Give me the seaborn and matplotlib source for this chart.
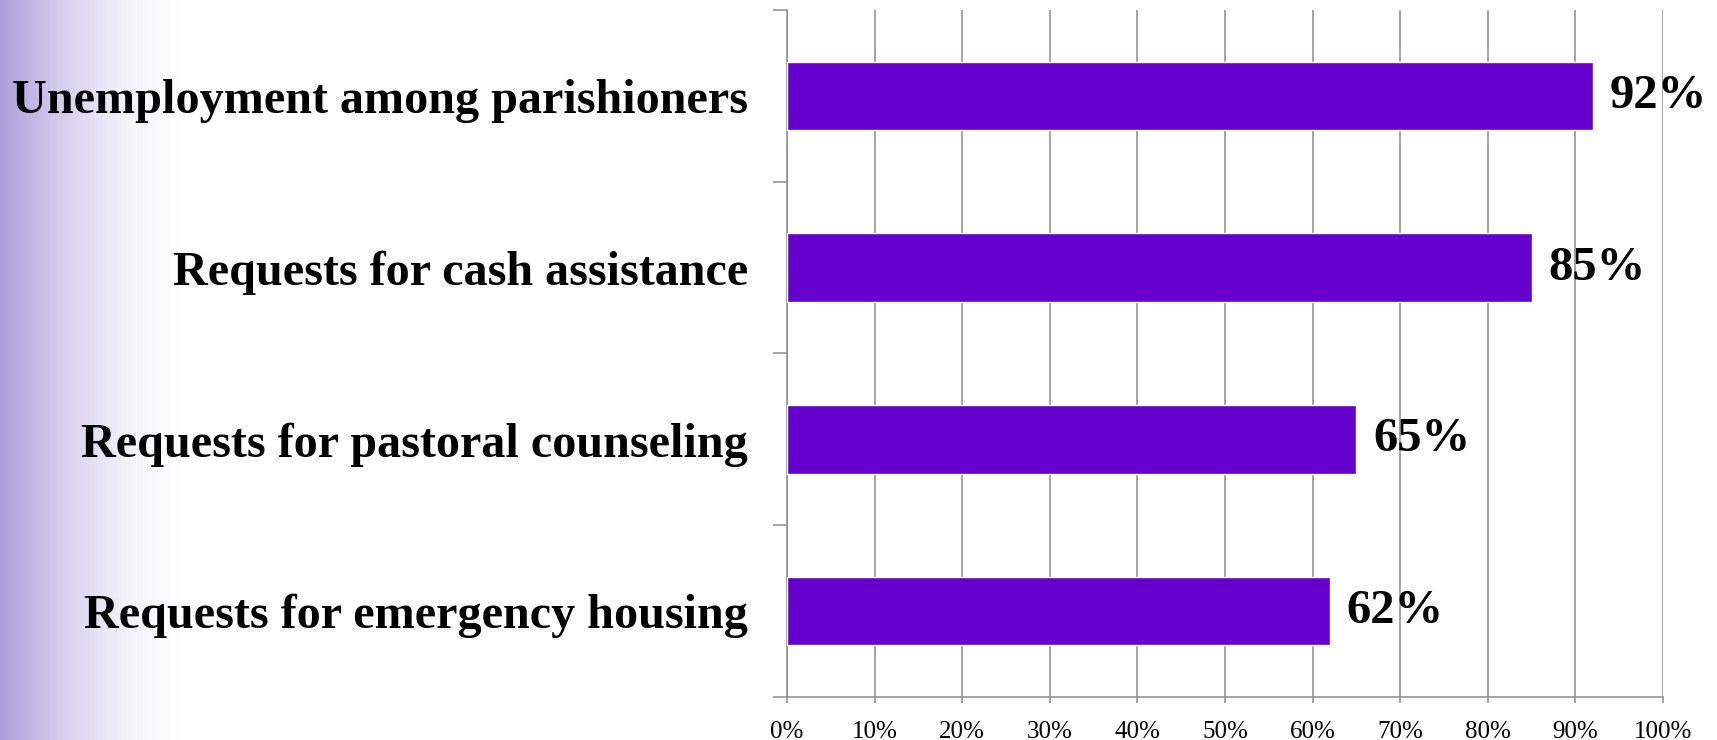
import numpy as np
import pandas as pd
import matplotlib
matplotlib.use("Agg")
import matplotlib.pyplot as plt
from matplotlib.colors import LinearSegmentedColormap
from matplotlib.ticker import FixedLocator, PercentFormatter
import seaborn as sns

# Data
categories = [
    "Unemployment among parishioners",
    "Requests for cash assistance",
    "Requests for pastoral counseling",
    "Requests for emergency housing",
]
shares = [92, 85, 65, 62]
x_ticks = list(range(0, 101, 10))

BAR_COLOR = "#6600CC"
GRID_COLOR = "#8C8C8C"

sns.set_theme(style="white")
plt.rcParams["font.family"] = ["Liberation Serif", "DejaVu Serif"]

df = pd.DataFrame({"category": categories, "share": shares})

fig = plt.figure(figsize=(17.17, 7.40), dpi=100)
fig.patch.set_facecolor("white")

# Soft purple band on the left edge of the slide
bg = fig.add_axes([0, 0, 0.105, 1], zorder=-1)
fade = LinearSegmentedColormap.from_list(
    "fade", [(0.0, "#AC9FDC"), (0.35, "#D6CFEE"), (0.7, "#F4F2FB"), (1.0, "#FFFFFF")])
bg.imshow(np.linspace(0, 1, 256)[None, :], aspect="auto", cmap=fade,
          extent=[0, 1, 0, 1])
bg.set_axis_off()

ax = fig.add_axes([0.4584, 0.0581, 0.5102, 0.9284])
ax.patch.set_alpha(0)

sns.barplot(data=df, x="share", y="category", orient="h",
            color=BAR_COLOR, saturation=1, width=0.4, ax=ax, zorder=3)

ax.set_xlim(0, 100)
ax.set_ylim(3.5, -0.5)
ax.set_xticks(x_ticks)
ax.xaxis.set_major_formatter(PercentFormatter(decimals=0))
ax.set_xlabel("")
ax.set_ylabel("")

ax.grid(True, axis="x", color=GRID_COLOR, linewidth=1.1, zorder=0)
ax.grid(False, axis="y")

for side in ["top", "right"]:
    ax.spines[side].set_visible(False)
for side in ["left", "bottom"]:
    ax.spines[side].set_color(GRID_COLOR)
    ax.spines[side].set_linewidth(1.1)

ax.tick_params(axis="x", bottom=True, length=4, width=1.1, color=GRID_COLOR,
               direction="out", pad=13, labelsize=18, labelcolor="black")
ax.tick_params(axis="y", which="major", left=False, length=0, pad=28,
               labelsize=34.7, labelcolor="black")
for lbl in ax.get_yticklabels():
    lbl.set_fontweight("bold")

# Category boundary ticks on the y axis
ax.yaxis.set_minor_locator(FixedLocator(np.arange(-0.5, len(categories), 1.0)))
ax.tick_params(axis="y", which="minor", left=True, length=10, width=1.1,
               color=GRID_COLOR, direction="out")

ax.bar_label(ax.containers[0], labels=[f"{v}%" for v in shares], padding=12,
             fontsize=35, fontweight="bold", color="black")

fig.savefig("out.png", dpi=100, facecolor="white")
